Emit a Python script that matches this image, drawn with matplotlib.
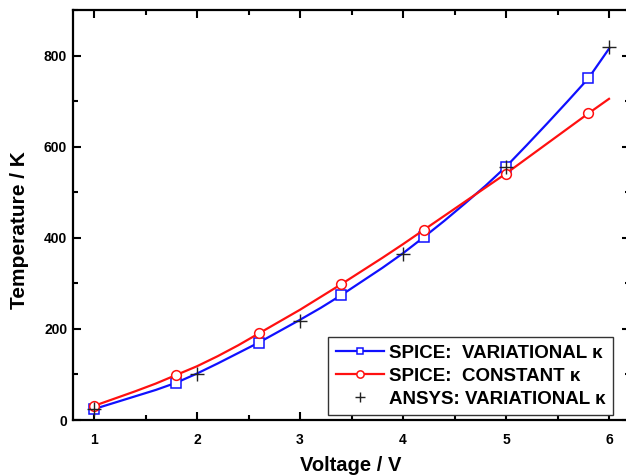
import matplotlib
matplotlib.use("Agg")
import matplotlib.pyplot as plt
from matplotlib.ticker import MultipleLocator

plt.rcParams['font.family'] = ['Liberation Sans', 'DejaVu Sans']
plt.rcParams['font.weight'] = 'bold'

# SPICE variational kappa (dense curve, markers every 0.8 V)
v_curve = [1.0, 1.2, 1.4, 1.6, 1.8, 2.0, 2.2, 2.4, 2.6, 2.8, 3.0, 3.2, 3.4,
           3.6, 3.8, 4.0, 4.2, 4.4, 4.6, 4.8, 5.0, 5.2, 5.4, 5.6, 5.8, 6.0]
t_spice_var = [24, 38, 52, 66, 82, 102, 124, 147, 170, 195, 220, 246, 274,
               304, 334, 366, 401, 437, 475, 514, 556, 603, 651, 700, 750, 815]
t_spice_const = [31, 47, 63, 80, 99, 118, 140, 164, 190, 216, 242, 270, 298,
                 327, 356, 386, 417, 448, 479, 510, 541, 574, 607, 640, 673, 705]
marker_idx = [0, 4, 8, 12, 16, 20, 24]

v_ansys = [1, 2, 3, 4, 5, 6]
t_ansys = [25, 101, 218, 364, 556, 818]

labels = ["SPICE:  VARIATIONAL κ", "SPICE:  CONSTANT κ", "ANSYS: VARIATIONAL κ"]

W, H = 626, 476
fig = plt.figure(figsize=(W / 100, H / 100), dpi=100)
x0, x1 = 73.4, 629.6
y0, y1 = 10, 420
ax = fig.add_axes([x0 / W, 1 - y1 / H, (x1 - x0) / W, (y1 - y0) / H])

ax.plot(v_curve, t_spice_var, color='#1010ff', lw=1.6, marker='s', ms=6.5,
        mfc='white', mec='#1010ff', mew=1.1, markevery=marker_idx, label=labels[0])
ax.plot(v_curve, t_spice_const, color='#ff1010', lw=1.6, marker='o', ms=7,
        mfc='white', mec='#ff1010', mew=1.1, markevery=marker_idx, label=labels[1])
ax.plot(v_ansys, t_ansys, ls='none', marker='+', ms=10, mew=1.0, color='#222222',
        label=labels[2])

ax.set_xlim(0.8, 6.2)
ax.set_ylim(0, 900)
ax.xaxis.set_major_locator(MultipleLocator(1))
ax.xaxis.set_minor_locator(MultipleLocator(0.5))
ax.yaxis.set_major_locator(MultipleLocator(200))
ax.yaxis.set_minor_locator(MultipleLocator(100))
ax.tick_params(which='both', direction='in', top=True, right=True, width=1.5,
               labelsize=10)
ax.tick_params(which='major', length=6)
ax.tick_params(which='minor', length=3.5)
ax.tick_params(axis='x', which='major', pad=9)
ax.tick_params(axis='y', which='major', pad=4.5)
for s in ax.spines.values():
    s.set_linewidth(1.6)
for lab in ax.get_xticklabels() + ax.get_yticklabels():
    lab.set_fontweight('bold')

ax.set_xlabel("Voltage / V", fontsize=14.5, fontweight='bold')
ax.set_ylabel("Temperature / K", fontsize=15, fontweight='bold')
ax.xaxis.set_label_coords(0.499, -0.088)
ax.yaxis.set_label_coords(-0.079, 0.463)

leg = ax.legend(loc='lower left', bbox_to_anchor=(328 / W, 1 - 415 / H),
                bbox_transform=fig.transFigure, borderaxespad=0,
                fancybox=False, edgecolor='#333333', framealpha=1,
                prop={'weight': 'bold', 'size': 13.5}, handlelength=2.56,
                handletextpad=0.27, labelspacing=0.3, borderpad=0.4,
                markerscale=0.75)
leg.get_frame().set_linewidth(1.0)

fig.savefig("out.png", dpi=100)
